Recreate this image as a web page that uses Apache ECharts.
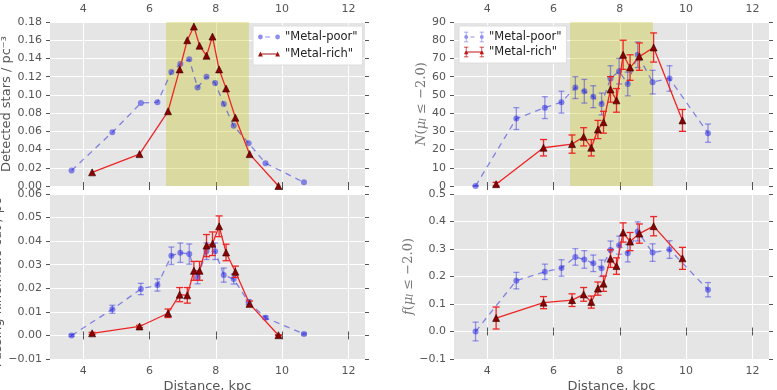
<!DOCTYPE html>
<html>
<head>
<meta charset="utf-8">
<script src="https://cdn.jsdelivr.net/npm/echarts@6/dist/echarts.min.js"></script>
<style>
  html, body { margin: 0; padding: 0; background: #fff; }
  #chart { width: 777px; height: 390px; }
</style>
</head>
<body>
<div id="chart"></div>
<script>
// distances (kpc) of the two samples
const distPoor = [3.65, 4.88, 5.74, 6.24, 6.66, 6.93, 7.2, 7.45, 7.72, 7.98, 8.24, 8.54, 8.99, 9.5, 10.66];
const distRich = [4.27, 5.7, 6.56, 6.91, 7.14, 7.34, 7.51, 7.72, 7.9, 8.1, 8.31, 8.59, 9.02, 9.89];
const xTicks = [4, 6, 8, 10, 12];
const spanRange = [6.5, 9];

// top left: detected stars
const densPoor = [0.017, 0.059, 0.091, 0.092, 0.125, 0.134, 0.139, 0.108, 0.120, 0.113, 0.090, 0.066, 0.047, 0.025, 0.004];
const densRich = [0.015, 0.035, 0.082, 0.128, 0.160, 0.175, 0.154, 0.143, 0.164, 0.128, 0.107, 0.075, 0.035, 0.0];

// bottom left: passing kinematic cut
const kinPoor = [0.0, 0.0111, 0.0197, 0.0214, 0.0338, 0.0351, 0.0345, 0.0246, 0.0357, 0.0357, 0.0256, 0.0239, 0.0141, 0.0075, 0.0006];
const kinPoorErr = [0.0004, 0.0017, 0.0024, 0.0026, 0.0037, 0.0041, 0.0043, 0.0027, 0.0035, 0.0035, 0.003, 0.0021, 0.0011, 0.0007, 0.0004];
const kinRich = [0.0009, 0.0038, 0.0094, 0.0173, 0.017, 0.0274, 0.0274, 0.0381, 0.0389, 0.0463, 0.0352, 0.027, 0.0134, 0.0001];
const kinRichErr = [0.0004, 0.0005, 0.0018, 0.003, 0.0033, 0.004, 0.004, 0.0047, 0.005, 0.0044, 0.0035, 0.0024, 0.0012, 0.0002];

// top right: N(mu_l <= -2.0)
const nPoor = [0, 37, 43, 46, 54, 52, 49, 45, 59, 63, 56, 72, 57, 59, 29];
const nPoorErr = [0, 6, 6, 6, 6, 6.5, 6, 6, 7, 7, 6.5, 7, 6.5, 7, 5];
const nRich = [1, 21, 23, 27, 21, 31, 35, 53, 47, 72, 65, 71, 76, 36];
const nRichErr = [1, 4.5, 5, 5, 4.5, 5, 6, 7, 6.5, 8, 7, 7.5, 8, 6];

// bottom right: f(mu_l <= -2.0)
const fPoor = [0, 0.185, 0.217, 0.231, 0.271, 0.262, 0.248, 0.230, 0.296, 0.314, 0.285, 0.364, 0.287, 0.298, 0.152];
const fPoorErr = [0.034, 0.03, 0.028, 0.03, 0.03, 0.032, 0.03, 0.03, 0.033, 0.033, 0.032, 0.035, 0.032, 0.032, 0.026];
const fRich = [0.049, 0.105, 0.114, 0.135, 0.107, 0.156, 0.174, 0.265, 0.238, 0.360, 0.327, 0.356, 0.383, 0.266];
const fRichErr = [0.04, 0.022, 0.023, 0.025, 0.022, 0.024, 0.028, 0.032, 0.03, 0.035, 0.033, 0.035, 0.035, 0.04];

const POOR = '"Metal-poor"';
const RICH = '"Metal-rich"';
const poorColor = 'rgba(30,30,225,0.5)';
const richLine = '#ee2525';
const richMarker = '#8b0000';
const tickColor = '#555';
const font = 'DejaVu Sans';

const chart = echarts.init(document.getElementById('chart'));

const zip = (xs, ys, es) => xs.map((x, i) => es ? [x, ys[i], es[i]] : [x, ys[i]]);
const minus = (s) => String(s).replace('-', '\u2212');

const grids = [
  { left: 50, top: 22, width: 315, height: 164 },
  { left: 50, top: 194, width: 315, height: 165 },
  { left: 454, top: 22, width: 315, height: 164 },
  { left: 454, top: 194, width: 315, height: 165 },
].map((g) => ({
  ...g, show: true, backgroundColor: '#e5e5e5', borderWidth: 0,
  containLabel: false, outerBoundsMode: 'none',
}));

const yCfg = [
  { min: 0, max: 0.18, interval: 0.02, fmt: (v) => v.toFixed(2), name: 'Detected stars / pc\u207B\u00B3', math: false },
  { min: -0.01, max: 0.06, interval: 0.01, fmt: (v) => minus(v.toFixed(2)), name: 'Passing kinematic cut / pc\u207B\u00B3', math: false },
  { min: 0, max: 90, interval: 10, fmt: (v) => String(Math.round(v)), name: '{i|N}{n|(}{i|\u03BC}{s|l}{n| \u2264 \u22122.0)}', math: true },
  { min: -0.1, max: 0.5, interval: 0.1, fmt: (v) => minus(v.toFixed(1)), name: '{i|f}{n|(}{i|\u03BC}{s|l}{n| \u2264 \u22122.0)}', math: true },
];

const tick = { show: true, inside: false, length: 4, lineStyle: { color: tickColor, width: 1 } };

const xAxis = [];
const yAxis = [];
grids.forEach((g, i) => {
  const isTop = i === 0 || i === 2;
  // bottom axis
  xAxis.push({
    type: 'value', gridIndex: i, position: 'bottom', min: 3, max: 12.5,
    axisLine: { show: false },
    axisTick: { ...tick, customValues: xTicks },
    axisLabel: { show: !isTop, customValues: xTicks, color: tickColor, fontSize: 11, fontFamily: font, margin: 7 },
    splitLine: { show: true, lineStyle: { color: '#fff', width: 1 } },
    name: isTop ? '' : 'Distance, kpc', nameLocation: 'middle', nameGap: 21,
    nameTextStyle: { color: tickColor, fontSize: 13, fontFamily: font },
  });
  // top axis
  xAxis.push({
    type: 'value', gridIndex: i, position: 'top', min: 3, max: 12.5,
    axisLine: { show: false },
    axisTick: { ...tick, customValues: xTicks },
    axisLabel: { show: isTop, customValues: xTicks, color: tickColor, fontSize: 11, fontFamily: font, margin: 7 },
    splitLine: { show: false },
  });
  const c = yCfg[i];
  yAxis.push({
    type: 'value', gridIndex: i, position: 'left', min: c.min, max: c.max, interval: c.interval,
    axisLine: { show: false },
    axisTick: tick,
    axisLabel: { color: tickColor, fontSize: 11, fontFamily: font, margin: 8, formatter: c.fmt },
    splitLine: { show: true, lineStyle: { color: '#fff', width: 1 } },
    name: c.name, nameLocation: 'middle', nameRotate: 90, nameGap: c.math ? 26 : 35,
    nameTextStyle: c.math ? {
      color: '#777', fontSize: 13, fontFamily: 'DejaVu Serif',
      rich: {
        i: { fontStyle: 'italic', fontSize: 13, fontFamily: 'DejaVu Serif', color: '#777' },
        n: { fontSize: 13, fontFamily: 'DejaVu Serif', color: '#777' },
        s: { fontStyle: 'italic', fontSize: 9, fontFamily: 'DejaVu Serif', color: '#777', verticalAlign: 'bottom' },
      },
    } : { color: tickColor, fontSize: 13, fontFamily: font },
  });
  yAxis.push({
    type: 'value', gridIndex: i, position: 'right', min: c.min, max: c.max, interval: c.interval,
    axisLine: { show: false },
    axisTick: tick,
    axisLabel: { show: false },
    splitLine: { show: false },
  });
});

function errorBars(name, panel, data, color, capW, z) {
  return {
    name, type: 'custom', xAxisIndex: panel * 2, yAxisIndex: panel * 2, z,
    data, encode: { x: 0, y: 1 }, silent: true,
    renderItem(params, api) {
      const x = api.value(0), y = api.value(1), e = api.value(2);
      const hi = api.coord([x, y + e]);
      const lo = api.coord([x, y - e]);
      const hw = capW / 2;
      const st = { stroke: color, lineWidth: 1.3 };
      return {
        type: 'group',
        children: [
          { type: 'line', shape: { x1: hi[0], y1: hi[1], x2: lo[0], y2: lo[1] }, style: st },
          { type: 'line', shape: { x1: hi[0] - hw, y1: hi[1], x2: hi[0] + hw, y2: hi[1] }, style: st },
          { type: 'line', shape: { x1: lo[0] - hw, y1: lo[1], x2: lo[0] + hw, y2: lo[1] }, style: st },
        ],
      };
    },
  };
}

function poorLine(panel, data) {
  return {
    name: POOR, type: 'line', xAxisIndex: panel * 2, yAxisIndex: panel * 2, z: 3,
    data, symbol: 'circle', symbolSize: 6,
    itemStyle: { color: poorColor, borderWidth: 0 },
    lineStyle: { color: poorColor, width: 1.3, type: [6, 5] },
  };
}

function richLineSeries(panel, data) {
  return {
    name: RICH, type: 'line', xAxisIndex: panel * 2, yAxisIndex: panel * 2, z: 5,
    data, symbol: 'triangle', symbolSize: 7,
    itemStyle: { color: richMarker, borderColor: '#300000', borderWidth: 0.6 },
    lineStyle: { color: richLine, width: 1.3 },
  };
}

function span(panel) {
  return {
    type: 'line', xAxisIndex: panel * 2, yAxisIndex: panel * 2, z: 1, data: [], silent: true,
    markArea: {
      silent: true,
      itemStyle: { color: 'rgba(191,191,0,0.3)' },
      data: [[{ xAxis: spanRange[0] }, { xAxis: spanRange[1] }]],
    },
  };
}

const series = [
  span(0),
  poorLine(0, zip(distPoor, densPoor)),
  richLineSeries(0, zip(distRich, densRich)),

  errorBars(POOR, 1, zip(distPoor, kinPoor, kinPoorErr), 'rgba(40,40,225,0.45)', 6, 2),
  poorLine(1, zip(distPoor, kinPoor)),
  errorBars(RICH, 1, zip(distRich, kinRich, kinRichErr), richLine, 7, 4),
  richLineSeries(1, zip(distRich, kinRich)),

  span(2),
  errorBars(POOR, 2, zip(distPoor, nPoor, nPoorErr), 'rgba(40,40,225,0.45)', 6, 2),
  poorLine(2, zip(distPoor, nPoor)),
  errorBars(RICH, 2, zip(distRich, nRich, nRichErr), richLine, 7, 4),
  richLineSeries(2, zip(distRich, nRich)),

  errorBars(POOR, 3, zip(distPoor, fPoor, fPoorErr), 'rgba(40,40,225,0.45)', 6, 2),
  poorLine(3, zip(distPoor, fPoor)),
  errorBars(RICH, 3, zip(distRich, fRich, fRichErr), richLine, 7, 4),
  richLineSeries(3, zip(distRich, fRich)),
];

// legend glyphs
const iconPoor = 'path://M0.5,4A2.5,2.5,0,1,1,5.5,4A2.5,2.5,0,1,1,0.5,4ZM8,3.4L13,3.4L13,4.6L8,4.6ZM18.5,4A2.5,2.5,0,1,1,23.5,4A2.5,2.5,0,1,1,18.5,4Z';
const iconRich = 'path://M0.5,6.5L3,1.5L5.5,6.5ZM3,3.5L21,3.5L21,4.5L3,4.5ZM18.5,6.5L21,1.5L23.5,6.5Z';
const iconPoorErr = 'path://M2.6,0L3.4,0L3.4,12L2.6,12ZM0.5,0L5.5,0L5.5,0.9L0.5,0.9ZM0.5,11.1L5.5,11.1L5.5,12L0.5,12ZM0.8,6A2.2,2.2,0,1,1,5.2,6A2.2,2.2,0,1,1,0.8,6ZM8,5.4L12.5,5.4L12.5,6.6L8,6.6ZM20.6,0L21.4,0L21.4,12L20.6,12ZM18.5,0L23.5,0L23.5,0.9L18.5,0.9ZM18.5,11.1L23.5,11.1L23.5,12L18.5,12ZM18.8,6A2.2,2.2,0,1,1,23.2,6A2.2,2.2,0,1,1,18.8,6Z';
const iconRichErr = 'path://M2.6,0L3.4,0L3.4,12L2.6,12ZM0.5,0L5.5,0L5.5,0.9L0.5,0.9ZM0.5,11.1L5.5,11.1L5.5,12L0.5,12ZM0.5,8.5L3,3.5L5.5,8.5ZM3,5.5L21,5.5L21,6.5L3,6.5ZM20.6,0L21.4,0L21.4,12L20.6,12ZM18.5,0L23.5,0L23.5,0.9L18.5,0.9ZM18.5,11.1L23.5,11.1L23.5,12L18.5,12ZM18.5,8.5L21,3.5L23.5,8.5Z';

const legendBase = {
  orient: 'vertical', backgroundColor: '#fff', borderColor: '#ddd', borderWidth: 1,
  padding: [5, 5, 5, 5], itemGap: 5, selectedMode: false,
  textStyle: { color: '#222', fontSize: 11.5, fontFamily: font },
};

const option = {
  animation: false,
  grid: grids,
  xAxis,
  yAxis,
  legend: [
    {
      ...legendBase, left: 253, top: 26, itemWidth: 22, itemHeight: 8,
      data: [
        { name: POOR, icon: iconPoor, itemStyle: { color: poorColor, borderWidth: 0 } },
        { name: RICH, icon: iconRich, itemStyle: { color: '#a01010', borderWidth: 0 } },
      ],
    },
    {
      ...legendBase, left: 459, top: 26, itemWidth: 20, itemHeight: 11, itemGap: 3,
      data: [
        { name: POOR, icon: iconPoorErr, itemStyle: { color: poorColor, borderWidth: 0 } },
        { name: RICH, icon: iconRichErr, itemStyle: { color: '#c01515', borderWidth: 0 } },
      ],
    },
  ],
  series,
};

chart.setOption(option);
</script>
</body>
</html>
